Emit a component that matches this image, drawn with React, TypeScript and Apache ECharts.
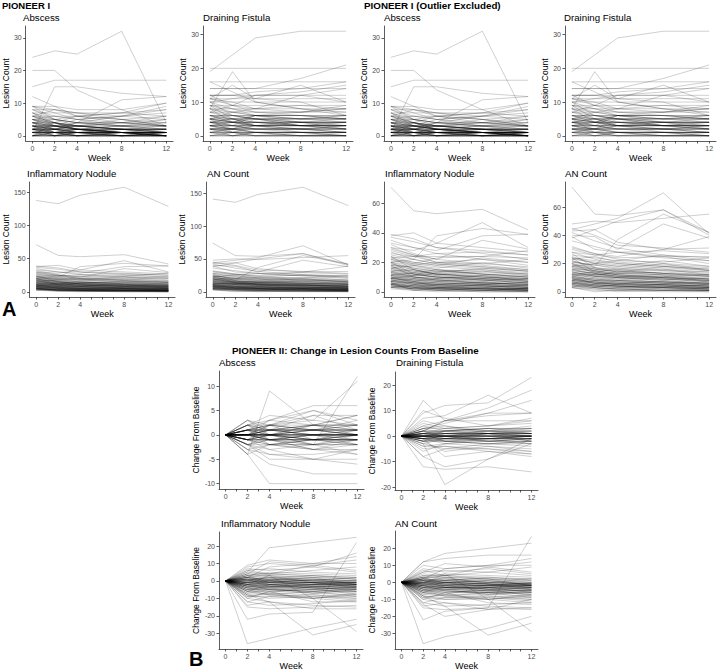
import { useEffect, useRef } from "react";
import * as echarts from "echarts";

const FONT = "'Liberation Sans', Arial, Helvetica, sans-serif";

const weeks = [0, 2, 4, 8, 12];
const weekTicks = [0, 1, 2, 3, 4, 5, 6, 7, 8, 9, 10, 11, 12];
const weekLabels = [0, 2, 4, 8, 12];

const abscessA = [
  [24,26,25,32,4],[20,20,14,8,3],[15,17,17,17,17],[1,15,15,13,12],[12,9,6,5,3],[3,2,4,11,12],
  [9,9,8,8,10],[9,7,5,6,9],[9,8,7,7,6],[8,6,6,7,8],[8,8,6,4,5],[7,5,6,5,3],[7,3,4,6,7],
  [7,7,7,6,5],[6,6,5,3,4],[6,4,2,3,2],[6,8,7,5,6],[5,5,4,4,3],[5,3,3,2,1],[5,2,4,3,5],
  [5,6,5,4,4],[4,4,3,5,4],[4,3,2,2,1],[4,1,2,1,2],[4,5,4,3,3],[3,3,3,2,2],[3,2,1,1,0],
  [3,4,2,3,1],[3,1,0,1,1],[3,3,2,2,3],[2,2,2,1,1],[2,3,1,2,2],[2,1,1,0,0],[2,0,1,1,0],
  [2,2,3,4,3],[2,2,2,2,2],[1,1,1,1,1],[1,2,0,0,1],[1,0,1,2,0],[1,1,2,1,0],[1,3,2,1,1],
  [1,1,1,0,0],[0,0,1,0,0],[0,1,0,1,0],[0,0,0,0,0],[0,2,1,0,1],[0,1,1,1,2],[1,0,0,0,0],
  [2,1,0,1,1],[4,2,3,2,2],[6,5,4,4,3],[0,4,2,1,0],[3,0,2,0,1],[9,5,3,4,6],[5,4,6,7,10],
  [4,3,5,6,8],[1,1,0,0,1],[2,2,1,1,1],[3,3,3,3,3],[0,0,0,1,0],
  [0,0,0,0,1],[1,1,0,1,1],[2,1,2,1,0],[3,2,2,1,1],[1,2,1,1,0],[0,1,1,0,0],[2,3,2,1,1],
  [4,3,3,2,1],[5,4,3,2,2],[3,1,1,1,0],[1,0,1,0,0],[2,2,1,0,1],[6,4,3,3,2],[4,4,2,2,2],
  [3,3,2,1,1],[2,1,1,1,1],[0,0,1,1,0],[1,1,1,2,1],[5,3,2,2,1],[7,4,3,2,2],[8,5,4,3,3],
  [2,4,3,2,1],[1,2,2,1,1],[0,1,2,1,0],[3,2,3,2,2],[4,2,1,1,0],[6,3,2,1,1],[2,0,0,0,0],
  [1,1,0,0,0],[0,0,0,0,0],
];

const fistulaA = [
  [19,24,29,31,31],[20,20,20,20,20],[16,16,16,16,16],[14,14,14,17,21],[8,19,10,8,6],
  [11,15,11,10,6],[12,12,11,15,10],[5,7,8,12,10],[12,12,13,14,16],[11,9,12,13,15],
  [10,11,12,12,14],[14,14,14,14,14],[12,12,12,12,12],[11,11,11,11,11],[10,10,10,10,10],
  [16,13,10,8,7],[9,5,6,7,9],[8,8,8,8,8],[9,9,9,9,9],[7,7,7,7,7],[10,8,6,6,5],[6,6,6,6,6],
  [5,5,5,5,5],[4,4,4,4,4],[3,3,3,3,3],[2,2,2,2,2],[1,1,1,1,1],[0,0,0,0,0],[6,4,6,5,4],
  [5,3,6,4,3],[4,2,5,3,2],[3,1,2,1,1],[2,0,1,0,0],[5,1,0,1,0],[4,3,2,2,3],[3,2,4,3,2],
  [2,1,3,1,1],[1,0,0,0,0],[6,5,4,3,3],[7,5,3,4,2],[8,6,5,4,4],[5,4,6,5,5],[4,5,3,2,1],
  [3,4,3,4,5],[2,3,2,2,1],[1,2,1,0,1],[0,1,0,0,0],[9,7,6,5,6],[8,4,3,2,3],[11,10,8,9,8],
  [12,9,7,6,5],[10,6,5,3,4],[7,9,8,7,8],[4,4,5,4,4],[2,2,3,3,3],
  [0,0,0,0,0],[1,1,1,1,1],[2,2,2,2,2],[3,3,3,3,3],[4,4,4,4,4],[5,5,5,5,5],[6,6,6,6,6],
  [1,1,0,0,0],[2,1,1,1,1],[3,2,2,2,2],[4,3,3,3,3],[5,4,4,4,4],[6,5,5,5,5],[2,2,1,1,1],
  [3,3,2,2,2],[1,0,1,1,0],[0,0,1,0,0],[4,3,4,3,4],[5,4,3,3,3],[3,2,1,1,1],[2,2,3,2,2],
  [7,6,5,5,6],[8,7,6,6,5],[6,4,3,3,2],[5,6,5,4,4],[9,8,7,7,8],[4,5,4,4,3],[3,4,4,3,3],
  [1,2,2,2,1],[0,1,1,1,0],
];

const nodulesOutlier = [138,133,146,158,129];
const nodulesA = [
  [71,55,53,56,42],[38,40,33,30,27],[39,36,30,26,22],[25,22,38,43,39],[30,28,33,47,30],
  [33,30,28,38,39],[32,26,22,35,29],[37,34,30,28,25],[26,24,24,24,23],[21,19,23,24,28],
  [29,25,20,22,18],[24,20,18,23,20],[23,24,20,18,15],[22,18,16,20,16],[20,22,19,17,14],
  [20,16,14,15,12],[19,15,12,14,11],[18,17,15,12,10],[17,14,12,11,9],[16,12,14,13,12],
  [15,13,11,9,8],[14,15,12,10,9],[14,10,9,11,7],[13,12,10,8,6],[12,9,8,7,6],[12,11,12,10,9],
  [11,8,7,6,5],[10,9,8,7,4],[10,6,5,6,5],[9,7,6,5,3],[9,8,8,6,6],[8,6,5,4,3],[8,7,4,5,4],
  [7,5,4,3,2],[7,6,6,5,4],[6,4,3,4,2],[6,5,4,2,2],[5,3,2,3,1],[5,4,5,4,3],[4,2,2,1,1],
  [4,3,1,2,1],[3,2,2,2,1],[3,1,1,0,0],[2,1,0,1,0],[6,1,2,1,1],[18,10,8,6,5],[24,15,12,10,8],
  [20,12,10,9,7],[16,18,20,19,22],[35,30,26,22,20],[28,24,26,27,25],[13,11,13,16,14],
  [11,13,15,12,10],[9,11,10,8,9],[5,2,3,2,2],[3,4,2,1,2],
  [15,12,10,9,7],[13,10,9,8,6],[11,9,7,6,5],[10,8,6,5,4],[9,7,5,4,3],[8,6,4,3,2],[7,5,3,2,2],
  [6,4,3,2,1],[5,3,2,1,1],[4,2,1,1,0],[3,2,1,0,0],[12,10,8,8,6],[14,12,10,9,8],[16,14,12,11,10],
  [18,15,13,12,11],[20,18,15,14,12],[22,20,18,16,14],[17,13,11,10,8],[11,10,9,8,7],[9,8,7,6,5],
  [7,6,5,4,3],[5,4,3,3,2],[4,3,3,2,2],[6,3,2,2,1],[8,5,4,4,3],[10,7,6,5,4],[19,16,14,12,10],
  [23,19,17,15,13],[27,22,19,17,15],[30,25,22,19,17],
];

const anOutlier = [141,136,148,159,131];
const anA = [
  [74,55,54,58,42],[48,50,49,52,55],[44,48,52,70,41],[43,44,50,58,40],[22,18,37,55,42],
  [40,39,30,48,38],[38,44,35,30,39],[45,40,33,31,28],[42,36,31,26,24],[39,30,28,25,20],
  [31,27,25,30,31],[28,26,24,25,25],[26,24,22,26,22],[25,20,18,22,18],[24,22,20,18,16],
  [23,25,21,19,17],[22,17,16,20,15],[21,19,17,15,14],[20,16,14,16,12],[19,15,13,12,11],
  [18,16,15,13,12],[17,14,12,11,10],[16,12,13,14,12],[16,15,12,10,9],[15,13,11,9,8],
  [14,11,10,11,7],[13,12,10,8,6],[12,10,9,7,6],[12,12,11,10,9],[11,9,8,7,5],[10,8,7,6,4],
  [10,6,6,7,5],[9,7,6,5,3],[9,8,8,6,6],[8,6,5,4,3],[8,7,5,5,4],[7,5,4,3,2],[7,6,6,5,4],
  [6,4,3,4,2],[6,5,4,2,2],[5,3,2,3,1],[5,4,5,4,3],[4,2,2,1,1],[4,3,1,2,1],[3,1,1,0,0],
  [3,2,0,1,0],[3,0,1,1,1],[20,13,10,8,6],[27,17,14,12,9],[24,14,12,10,8],[18,20,22,21,24],
  [36,32,28,24,22],[30,26,28,29,27],[14,12,14,18,15],[12,14,16,13,11],
  [16,13,11,10,8],[14,11,10,9,7],[12,10,8,7,6],[11,9,7,6,5],[10,8,6,5,4],[9,7,5,4,3],
  [8,6,4,3,2],[7,5,4,3,2],[6,4,3,2,1],[5,3,2,1,1],[4,3,2,1,1],[13,11,9,9,7],[15,13,11,10,9],
  [17,15,13,12,11],[19,16,14,13,12],[21,19,16,15,13],[23,21,19,17,15],[18,14,12,11,9],
  [12,11,10,9,8],[10,9,8,7,6],[8,7,6,5,4],[6,5,4,4,3],[5,4,4,3,3],[7,4,3,3,2],[9,6,5,5,4],
  [11,8,7,6,5],[20,17,15,13,11],[24,20,18,16,14],[28,23,20,18,16],[32,27,23,20,18],
];

const abscessB = [
  [0,3,0,2,4],[0,-4,9,2,4],[0,-1,0,-2,12],[0,1,2,3,11],[0,-4,-10,-10,-10],[0,-3,-6,-8,-8],
  [0,-2,-5,-5,-6],[0,-2,-3,-5,-5],[0,2,3,6,6],[0,1,2,5,3],[0,0,3,5,2],[0,2,1,4,4],
  [0,-1,2,4,1],[0,3,2,1,2],[0,2,2,2,2],[0,1,1,1,1],[0,0,0,0,0],[0,0,0,0,0],[0,-1,-1,-1,-1],
  [0,-2,-2,-2,-2],[0,1,0,1,0],[0,0,1,0,1],[0,-1,0,-1,0],[0,0,-1,0,-1],[0,-3,-2,-1,-2],
  [0,-2,-1,-3,-3],[0,-1,-2,-2,-4],[0,-3,-4,-4,-3],[0,2,-1,0,-2],[0,1,-2,-1,-1],[0,0,2,1,3],
  [0,-1,1,2,0],[0,0,-2,-3,-2],[0,1,3,2,1],[0,2,0,-1,1],[0,-2,0,1,2],[0,0,1,2,2],
  [0,-1,-3,-2,-1],[0,3,1,0,-1],[0,-4,-2,-3,-4],[0,0,0,-1,-2],[0,1,1,0,0],[0,-1,-1,0,1],
  [0,0,-1,-2,0],[0,-2,-4,-5,-3],[0,1,-1,-3,-1],[0,2,4,3,2],[0,0,2,-1,-1],
  [0,0,0,0,0],[0,0,0,0,0],[0,0,0,0,0],[0,1,0,0,0],[0,-1,0,0,0],[0,0,1,1,0],[0,0,-1,-1,0],
  [0,1,1,1,0],[0,-1,-1,-1,0],[0,0,0,1,1],[0,0,0,-1,-1],[0,1,0,-1,-1],[0,-1,0,1,1],
  [0,2,1,1,1],[0,-2,-1,-1,-1],[0,0,1,1,1],[0,0,-1,-1,-1],[0,1,2,1,0],[0,-1,-2,-1,0],
  [0,0,0,2,1],[0,0,0,-2,-1],[0,1,1,2,2],[0,-1,-1,-2,-2],[0,0,1,0,0],[0,0,-1,0,0],
];

const fistulaB = [
  [0,14,6,8,9],[0,9,12,13,23],[0,7,8,16,9],[0,2,6,11,18],[0,3,5,9,14],[0,-3,-19,-9,-3],
  [0,-12,-13,-12,-14],[0,-8,-12,-9,-1],[0,-8,-5,-5,-7],[0,-1,-8,-6,-7],[0,-4,-4,-6,-8],
  [0,4,6,9,9],[0,2,6,6,6],[0,3,3,4,7],[0,10,7,4,5],[0,-2,-6,-4,-6],[0,0,0,0,0],[0,0,0,0,0],
  [0,1,1,1,1],[0,-1,-1,-1,-1],[0,2,2,2,3],[0,-2,-2,-2,-2],[0,1,2,3,3],[0,-1,-2,-3,-2],
  [0,3,1,2,1],[0,-3,-1,-2,-1],[0,0,1,0,-1],[0,0,-1,0,1],[0,1,0,-1,0],[0,-1,0,1,2],
  [0,2,-1,1,0],[0,-2,1,0,-2],[0,4,2,3,2],[0,-4,-3,-2,-3],[0,1,3,2,4],[0,-1,-3,-4,-5],
  [0,2,0,-2,-1],[0,-2,-1,1,3],[0,0,2,1,2],[0,0,-2,-1,-3],[0,5,3,4,6],[0,-5,-4,-5,-6],
  [0,1,-2,-3,-2],[0,-1,2,3,1],[0,3,4,1,-2],[0,-3,-5,-3,-4],[0,6,4,2,1],[0,-6,-3,-1,0],
  [0,0,0,0,0],[0,0,0,0,0],[0,0,0,0,0],[0,1,0,0,0],[0,-1,0,0,0],[0,0,1,1,0],[0,0,-1,-1,0],
  [0,1,1,1,0],[0,-1,-1,-1,0],[0,0,0,1,1],[0,0,0,-1,-1],[0,1,0,-1,-1],[0,-1,0,1,1],
  [0,2,1,1,1],[0,-2,-1,-1,-1],[0,0,1,1,1],[0,0,-1,-1,-1],[0,1,2,1,0],[0,-1,-2,-1,0],
  [0,0,0,2,1],[0,0,0,-2,-1],[0,1,1,2,2],[0,-1,-1,-2,-2],[0,2,2,3,3],[0,-2,-2,-3,-3],
];

const nodulesB = [
  [0,-36,-33,-27,-22],[0,-22,-19,-18,22],[0,-8,-12,-31,-25],[0,-2,3,-10,-29],[0,5,19,22,25],
  [0,8,10,8,16],[0,9,12,10,14],[0,4,11,9,12],[0,2,8,10,10],[0,6,4,9,6],[0,-15,-16,-15,-14],
  [0,-14,-12,-16,-16],[0,-10,-6,-12,-12],[0,-12,-9,-8,-10],[0,-9,-7,-10,-8],[0,-5,-8,-6,-9],
  [0,-6,-4,-7,-6],[0,-4,-6,-5,-7],[0,-3,-2,-4,-5],[0,-2,-3,-3,-4],[0,-1,-2,-2,-3],
  [0,0,-1,-2,-2],[0,1,0,-1,-1],[0,2,1,0,-1],[0,3,2,1,0],[0,-1,0,-1,-2],[0,0,1,0,-1],
  [0,4,3,2,1],[0,5,4,3,2],[0,-3,-4,-2,-3],[0,-5,-3,-4,-2],[0,-2,0,-3,-1],[0,1,2,0,2],
  [0,3,5,4,3],[0,-7,-5,-6,-4],[0,-8,-10,-9,-11],[0,-4,-1,-2,0],[0,2,-2,-1,-3],[0,6,7,5,4],
  [0,-6,-8,-10,-7],[0,-1,1,3,1],[0,-3,0,2,-2],[0,7,6,8,5],[0,-10,-12,-14,-15],[0,-2,-5,-7,-5],
  [0,0,3,-1,-4],[0,-4,-7,-3,-6],[0,1,-3,-5,-3],[0,3,-1,1,-2],[0,-6,-2,-4,-8],[0,2,4,6,8],
  [0,-12,-14,-13,-11],
  [0,-2,-3,-3,-3],[0,-1,-1,-2,-2],[0,0,-1,-1,-1],[0,1,0,0,-1],[0,-3,-4,-4,-5],[0,-4,-5,-5,-6],
  [0,-2,-2,-3,-4],[0,0,0,-1,-2],[0,1,1,0,0],[0,2,1,1,0],[0,-1,-2,-3,-3],[0,-3,-3,-2,-2],
  [0,-5,-5,-6,-6],[0,-6,-6,-7,-8],[0,-2,-1,-1,-2],[0,0,-2,-2,-3],[0,1,-1,-1,-2],
  [0,-1,-3,-4,-4],[0,-4,-3,-3,-4],[0,2,0,-1,-1],[0,-7,-7,-8,-9],[0,-3,-5,-6,-5],[0,0,2,1,0],
  [0,3,3,2,1],[0,-1,0,0,-1],[0,-2,-4,-5,-4],[0,-8,-8,-9,-10],[0,4,4,3,2],[0,-5,-4,-4,-5],
  [0,-9,-9,-10,-12],
];

const anB = [
  [0,-36,-32,-27,-20],[0,-22,-17,-15,27],[0,-8,-14,-31,-24],[0,-1,5,-10,-29],[0,12,17,20,23],
  [0,12,14,16,16],[0,10,8,10,14],[0,6,11,9,12],[0,2,8,10,10],[0,7,4,9,6],[0,-15,-16,-15,-16],
  [0,-14,-12,-16,-15],[0,-10,-6,-12,-13],[0,-12,-9,-8,-10],[0,-9,-7,-10,-8],[0,-5,-8,-6,-9],
  [0,-6,-4,-7,-6],[0,-4,-6,-5,-7],[0,-3,-2,-4,-5],[0,-2,-3,-3,-4],[0,-1,-2,-2,-3],
  [0,0,-1,-2,-2],[0,1,0,-1,-1],[0,2,1,0,-1],[0,3,2,1,0],[0,-1,0,-1,-2],[0,0,1,0,-1],
  [0,4,3,2,1],[0,5,4,3,2],[0,-3,-4,-2,-3],[0,-5,-3,-4,-2],[0,-2,0,-3,-1],[0,1,2,0,2],
  [0,3,5,4,3],[0,-7,-5,-6,-4],[0,-8,-10,-9,-11],[0,-4,-1,-2,0],[0,2,-2,-1,-3],[0,6,7,6,4],
  [0,-6,-8,-10,-7],[0,-1,1,3,1],[0,-3,0,2,-2],[0,8,6,8,5],[0,-10,-12,-14,-15],[0,-2,-5,-7,-5],
  [0,0,3,-1,-4],[0,-4,-7,-3,-6],[0,1,-3,-5,-3],[0,3,-1,1,-2],[0,-6,-2,-4,-8],[0,2,4,6,9],
  [0,-12,-14,-13,-12],[0,-13,-20,-16,-10],
  [0,-2,-3,-4,-3],[0,-1,-2,-2,-3],[0,0,-1,-2,-1],[0,1,0,-1,-1],[0,-3,-4,-5,-5],[0,-4,-5,-6,-6],
  [0,-2,-3,-3,-4],[0,0,0,-1,-2],[0,1,1,0,-1],[0,2,1,0,0],[0,-1,-2,-3,-4],[0,-3,-3,-3,-2],
  [0,-5,-6,-6,-7],[0,-6,-7,-7,-8],[0,-2,-1,-2,-2],[0,0,-2,-3,-3],[0,1,-1,-2,-2],
  [0,-1,-3,-4,-5],[0,-4,-3,-4,-4],[0,2,0,-1,-2],[0,-7,-8,-8,-9],[0,-3,-5,-6,-6],[0,0,2,1,-1],
  [0,3,3,2,0],[0,-1,0,-1,-1],[0,-2,-4,-5,-5],[0,-8,-9,-9,-10],[0,4,4,2,2],[0,-5,-4,-5,-5],
  [0,-9,-10,-10,-12],
];

const yTicksAbs = [0, 10, 20, 30];
const yTicksBig = [0, 50, 100, 150];
const yTicksMid = [0, 20, 40, 60];
const yTicksB1 = [-10, -5, 0, 5, 10];
const yTicksB2 = [-20, -10, 0, 10, 20];
const yTicksB3 = [-30, -20, -10, 0, 10, 20];

type Panel = {
  title: string;
  lines: number[][];
  yName: string;
  yTicks: number[];
  grid: { left: number; top: number; width: number; height: number };
  nameGap: number;
  tx: number;
  ty: number;
};

const LC = "Lesion Count";
const CB = "Change From Baseline";

const panels: Panel[] = [
  { title: "Abscess", lines: abscessA, yName: LC, yTicks: yTicksAbs, grid: { left: 22, top: 26, width: 151, height: 115 }, nameGap: 14, tx: 23, ty: 17 },
  { title: "Draining Fistula", lines: fistulaA, yName: LC, yTicks: yTicksAbs, grid: { left: 203, top: 26, width: 150, height: 115 }, nameGap: 15, tx: 203, ty: 17 },
  { title: "Abscess", lines: abscessA, yName: LC, yTicks: yTicksAbs, grid: { left: 384, top: 26, width: 151, height: 115 }, nameGap: 15, tx: 384, ty: 17 },
  { title: "Draining Fistula", lines: fistulaA, yName: LC, yTicks: yTicksAbs, grid: { left: 565, top: 26, width: 151, height: 115 }, nameGap: 15, tx: 564, ty: 17 },
  { title: "Inflammatory Nodule", lines: [nodulesOutlier, ...nodulesA], yName: LC, yTicks: yTicksBig, grid: { left: 25, top: 182, width: 150, height: 115 }, nameGap: 17, tx: 27, ty: 173 },
  { title: "AN Count", lines: [anOutlier, ...anA], yName: LC, yTicks: yTicksBig, grid: { left: 206, top: 182, width: 149, height: 115 }, nameGap: 17, tx: 207, ty: 173 },
  { title: "Inflammatory Nodule", lines: nodulesA, yName: LC, yTicks: yTicksMid, grid: { left: 384, top: 182, width: 151, height: 115 }, nameGap: 14, tx: 385, ty: 173 },
  { title: "AN Count", lines: anA, yName: LC, yTicks: yTicksMid, grid: { left: 565, top: 182, width: 151, height: 115 }, nameGap: 14, tx: 565, ty: 173 },
  { title: "Abscess", lines: abscessB, yName: CB, yTicks: yTicksB1, grid: { left: 219, top: 371, width: 145, height: 118 }, nameGap: 17, tx: 219, ty: 362 },
  { title: "Draining Fistula", lines: fistulaB, yName: CB, yTicks: yTicksB2, grid: { left: 395, top: 372, width: 143, height: 118 }, nameGap: 17, tx: 396, ty: 362 },
  { title: "Inflammatory Nodule", lines: nodulesB, yName: CB, yTicks: yTicksB3, grid: { left: 219, top: 532, width: 144, height: 117 }, nameGap: 17, tx: 221, ty: 523 },
  { title: "AN Count", lines: anB, yName: CB, yTicks: yTicksB3, grid: { left: 395, top: 531, width: 143, height: 118 }, nameGap: 17, tx: 395, ty: 523 },
];

const AXIS = "#333333";
const LABEL = "#4d4d4d";

function buildOption() {
  const grids: any[] = [];
  const xAxes: any[] = [];
  const yAxes: any[] = [];
  const series: any[] = [];
  const graphic: any[] = [];

  panels.forEach((p, i) => {
    let lo = Infinity;
    let hi = -Infinity;
    p.lines.forEach((r) => r.forEach((v) => { lo = Math.min(lo, v); hi = Math.max(hi, v); }));
    const pad = (hi - lo) * 0.05;
    grids.push({ ...p.grid, containLabel: false });
    xAxes.push({
      type: "value", gridIndex: i, min: -0.6, max: 12.6,
      name: "Week", nameLocation: "middle", nameGap: 12,
      nameTextStyle: { fontSize: 9, color: "#000", fontFamily: FONT },
      axisLine: { show: true, onZero: false, lineStyle: { color: AXIS, width: 0.8 } },
      axisTick: { show: true, length: 2.5, customValues: weekTicks, lineStyle: { color: AXIS, width: 0.8 } },
      axisLabel: { customValues: weekLabels, fontSize: 7, color: LABEL, margin: 3.5, fontFamily: FONT },
      splitLine: { show: false },
    });
    yAxes.push({
      type: "value", gridIndex: i, min: lo - pad, max: hi + pad,
      name: p.yName, nameLocation: "middle", nameGap: p.nameGap,
      nameTextStyle: { fontSize: 8.5, color: "#000", fontFamily: FONT },
      axisLine: { show: true, onZero: false, lineStyle: { color: AXIS, width: 0.8 } },
      axisTick: { show: true, length: 2.5, customValues: p.yTicks, lineStyle: { color: AXIS, width: 0.8 } },
      axisLabel: { customValues: p.yTicks, fontSize: 7, color: LABEL, margin: 4, fontFamily: FONT },
      splitLine: { show: false },
    });
    p.lines.forEach((r) => {
      series.push({
        type: "line", xAxisIndex: i, yAxisIndex: i, silent: true,
        symbol: "none", showSymbol: false,
        data: weeks.map((w, k) => [w, r[k]]),
        lineStyle: { color: "rgba(0,0,0,0.27)", width: 0.7 },
        emphasis: { disabled: true },
      });
    });
    graphic.push({
      type: "text", x: p.tx, y: p.ty,
      style: { text: p.title, fontSize: 9.7, fontFamily: FONT, fill: "#000", align: "left", verticalAlign: "middle" },
    });
  });

  const bold = (text: string, x: number, y: number, size: number) => ({
    type: "text", x, y,
    style: { text, fontSize: size, fontWeight: "bold", fontFamily: FONT, fill: "#000", align: "left", verticalAlign: "middle" },
  });
  graphic.push(bold("PIONEER I", 2, 5, 9.5));
  graphic.push(bold("PIONEER I (Outlier Excluded)", 364, 5, 9.8));
  graphic.push(bold("PIONEER II: Change in Lesion Counts From Baseline", 232, 350, 9.8));
  graphic.push(bold("A", 2, 309, 20));
  graphic.push(bold("B", 189, 659, 20));

  return {
    animation: false,
    backgroundColor: "#ffffff",
    textStyle: { fontFamily: FONT },
    grid: grids,
    xAxis: xAxes,
    yAxis: yAxes,
    series,
    graphic,
  };
}

export default function App() {
  const ref = useRef<HTMLDivElement>(null);
  useEffect(() => {
    if (!ref.current) return;
    const chart = echarts.init(ref.current, undefined, { renderer: "svg" });
    chart.setOption(buildOption());
    return () => chart.dispose();
  }, []);
  return (
    <div
      ref={ref}
      style={{ position: "absolute", left: 0, top: 0, width: 717, height: 671, background: "#fff" }}
    />
  );
}
